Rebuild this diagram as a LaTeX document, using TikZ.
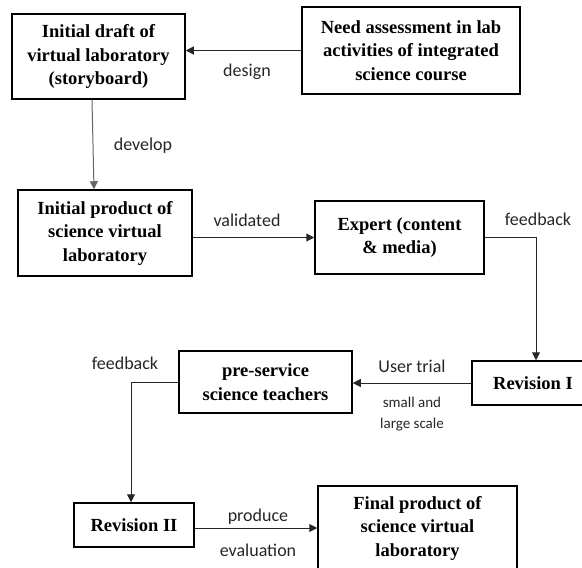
\documentclass[tikz,border=0pt]{standalone}
\usepackage{fontspec}
\setmainfont{Liberation Serif}
\newfontfamily\lblfont{Carlito}
\usetikzlibrary{arrows.meta}
\begin{document}
\begin{tikzpicture}[x=1pt,y=-1pt,
 box/.style={draw,line width=1.5pt,align=center,font=\bfseries\fontsize{18.5}{23.5}\selectfont,inner sep=0pt},
 lab/.style={font=\lblfont\fontsize{18}{22}\selectfont,inner sep=0pt,text=black!85},
 smalllab/.style={font=\lblfont\fontsize{15}{21}\selectfont,inner sep=0pt,align=center,text=black!85},
 conn/.style={line width=1pt,draw=black!85,-{Triangle[length=8pt,width=8pt]}},
 plain/.style={line width=1pt,draw=black!85}]
\useasboundingbox (0,0) rectangle (582,568);
\node[box,minimum width=173pt,minimum height=85pt] (draft) at (98.5,56.5) {Initial draft of\\virtual laboratory\\(storyboard)};
\node[box,minimum width=218pt,minimum height=87pt] (need) at (411,50.5) {Need assessment in lab\\activities of integrated\\science course};
\node[box,minimum width=174pt,minimum height=86pt] (prod) at (105,233) {Initial product of\\science virtual\\laboratory};
\node[box,minimum width=169pt,minimum height=73pt] (expert) at (399.5,237.5) {Expert (content\\\& media)};
\node[box,minimum width=122pt,minimum height=44pt] (rev1) at (533,383) {Revision I};
\node[box,minimum width=173pt,minimum height=62pt] (pre) at (265.5,382) {pre-service\\science teachers};
\node[box,minimum width=120pt,minimum height=44pt] (rev2) at (134,525) {Revision II};
\node[box,minimum width=199pt,minimum height=84pt] (final) at (417.5,528) {Final product of\\science virtual\\laboratory};

\draw[conn] (need.west) -- (draft.east |- need.west);
\draw[conn,draw=black!60] ([xshift=-6.5pt]draft.south) -- ([xshift=-11pt]prod.north);
\draw[conn] (prod.east |- expert.west) -- (expert.west);
\draw[conn] (expert.east) -| ([xshift=3pt]rev1.north);
\draw[conn] (rev1.west) -- (pre.east |- rev1.west);
\draw[conn] (pre.west) -| ([xshift=-3pt]rev2.north);
\draw[conn] (rev2.east |- final.west) -- (final.west);

\node[lab] (ldesign) at (247,72) {design};
\node[lab] (ldevelop) at (143,146) {develop};
\node[lab] (lvalid) at (247,220) {validated};
\node[lab] (lfb1) at (538,219) {feedback};
\node[lab] (lfb2) at (125,363) {feedback};
\node[lab] (luser) at (412,366) {User trial};
\node[smalllab] (lscale) at (412,414) {small and\\large scale};
\node[lab] (lprod) at (258,517) {produce};
\node[lab] (leval) at (258,550) {evaluation};
\end{tikzpicture}
\end{document}
